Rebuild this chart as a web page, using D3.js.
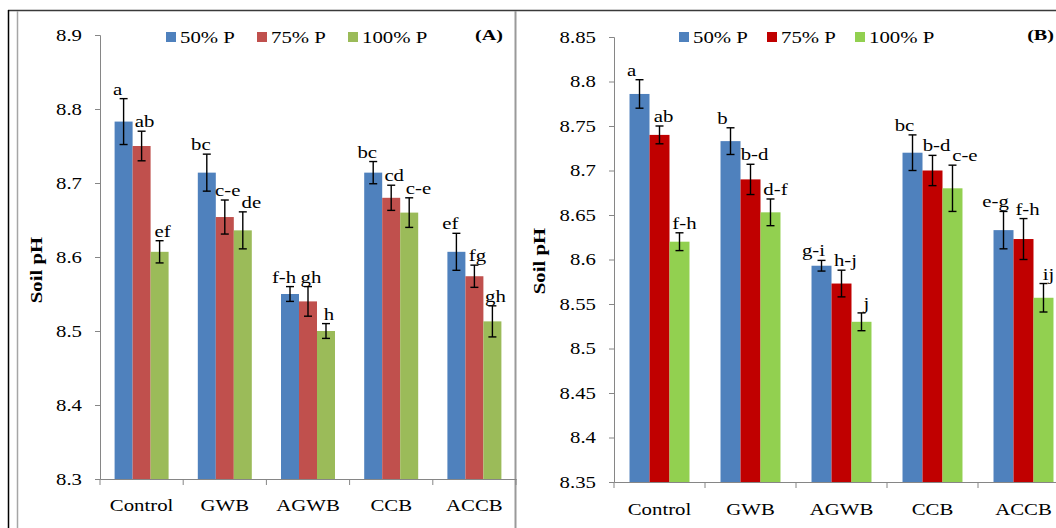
<!DOCTYPE html>
<html>
<head>
<meta charset="utf-8">
<script src="https://cdn.jsdelivr.net/npm/d3@7"></script>
<style>
body { margin: 0; background: #fff; }
svg { display: block; font-family: "Liberation Serif", "Times New Roman", serif; }
</style>
</head>
<body>
<svg id="chart" width="1056" height="528"></svg>
<script>
// categories and series
var categories = ["Control", "GWB", "AGWB", "CCB", "ACCB"];
var seriesNames = ["50% P", "75% P", "100% P"];

// panel (A) values
var a50 = [8.783, 8.714, 8.550, 8.714, 8.607];
var a75 = [8.750, 8.654, 8.540, 8.680, 8.574];
var a100 = [8.607, 8.636, 8.500, 8.660, 8.513];
var a50Err = [0.031, 0.025, 0.010, 0.015, 0.025];
var a75Err = [0.020, 0.023, 0.020, 0.017, 0.015];
var a100Err = [0.015, 0.025, 0.010, 0.020, 0.021];
var a50Lab = ["a", "bc", "f-h", "bc", "ef"];
var a75Lab = ["ab", "c-e", "gh", "cd", "fg"];
var a100Lab = ["ef", "de", "h", "c-e", "gh"];
var ticksA = [8.3, 8.4, 8.5, 8.6, 8.7, 8.8, 8.9];
var tickLabA = ["8.3", "8.4", "8.5", "8.6", "8.7", "8.8", "8.9"];

// panel (B) values
var b50 = [8.786, 8.733, 8.593, 8.720, 8.633];
var b75 = [8.740, 8.690, 8.573, 8.700, 8.623];
var b100 = [8.620, 8.653, 8.530, 8.680, 8.557];
var b50Err = [0.016, 0.015, 0.006, 0.020, 0.021];
var b75Err = [0.010, 0.017, 0.015, 0.017, 0.023];
var b100Err = [0.010, 0.015, 0.010, 0.026, 0.016];
var b50Lab = ["a", "b", "g-i", "bc", "e-g"];
var b75Lab = ["ab", "b-d", "h-j", "b-d", "f-h"];
var b100Lab = ["f-h", "d-f", "j", "c-e", "ij"];
var ticksB = [8.35, 8.4, 8.45, 8.5, 8.55, 8.6, 8.65, 8.7, 8.75, 8.8, 8.85];
var tickLabB = ["8.35", "8.4", "8.45", "8.5", "8.55", "8.6", "8.65", "8.7", "8.75", "8.8", "8.85"];

var axisColor = '#868686';
var sx = 1.3; // the original text is drawn wide

var svg = d3.select('#chart');

// frame lines
svg.append('line').attr('x1', 8).attr('x2', 1056).attr('y1', 10.5).attr('y2', 10.5)
	.attr('stroke', '#3a3a3a').attr('stroke-width', 1.5);
svg.append('line').attr('x1', 8.5).attr('x2', 8.5).attr('y1', 10).attr('y2', 528)
	.attr('stroke', '#000').attr('stroke-width', 1.5);
svg.append('line').attr('x1', 17.5).attr('x2', 17.5).attr('y1', 11).attr('y2', 528)
	.attr('stroke', '#a6a6a6').attr('stroke-width', 1.5);
svg.append('line').attr('x1', 515.5).attr('x2', 515.5).attr('y1', 11).attr('y2', 528)
	.attr('stroke', '#9a9a9a').attr('stroke-width', 2);

function wideText(g, x, y, txt){
	return g.append('text')
		.attr('transform', `translate(${x}, ${y}) scale(${sx}, 1)`)
		.text(txt);
}

function overlaps(a, b){
	return a.left < b.right && b.left < a.right && a.top < b.bottom && b.top < a.bottom;
}

function drawPanel(p){
	var g = svg.append('g');
	var x0 = d3.scaleBand().domain(categories)
		.range([p.left, p.right])
		.paddingInner(p.pad).paddingOuter(p.pad / 2);
	var x1 = d3.scaleBand().domain([0, 1, 2]).range([0, x0.bandwidth()]);
	var y = d3.scaleLinear().domain(p.domain).range([p.bottom, p.top]);

	// y axis
	var yAxis = g.append('g')
		.attr('transform', `translate(${p.left}, 0)`)
		.call(d3.axisLeft(y).tickValues(p.ticks).tickSizeOuter(0).tickSize(5)
			.tickFormat((d, i) => p.tickLabels[i]));
	yAxis.select('.domain').attr('stroke', axisColor);
	yAxis.selectAll('.tick line').attr('stroke', axisColor);
	yAxis.selectAll('.tick text')
		.attr('x', -18 / sx)
		.attr('transform', `scale(${sx}, 1)`)
		.attr('font-size', 16)
		.attr('font-family', '"Liberation Serif", serif')
		.attr('fill', '#000');

	// bars
	p.series.forEach(function(s, si){
		g.selectAll(null).data(s.vals).enter().append('rect')
			.attr('x', (d, i) => x0(categories[i]) + x1(si))
			.attr('width', x1.bandwidth())
			.attr('y', d => y(d))
			.attr('height', d => y(p.domain[0]) - y(d))
			.attr('fill', p.colors[si]);
	});

	// x axis
	var xAxis = g.append('g')
		.attr('transform', `translate(0, ${p.bottom})`)
		.call(d3.axisBottom(x0).tickSize(0).tickSizeOuter(0));
	xAxis.select('.domain').attr('stroke', axisColor);
	xAxis.selectAll('.tick text')
		.attr('y', p.labelY).attr('dy', 0)
		.attr('transform', `scale(${sx}, 1)`)
		.attr('font-size', 16)
		.attr('font-family', '"Liberation Serif", serif')
		.attr('fill', '#000');
	g.selectAll(null).data(d3.range(categories.length + 1)).enter().append('line')
		.attr('x1', i => p.left + i * x0.step()).attr('x2', i => p.left + i * x0.step())
		.attr('y1', p.bottom).attr('y2', p.bottom + 6)
		.attr('stroke', axisColor);

	// error bars and letters
	categories.forEach(function(c, i){
		var prev = null;
		p.series.forEach(function(s, si){
			var v = s.vals[i];
			var cx = x0(c) + x1(si) + x1.bandwidth() / 2;
			var yt = y(v + s.err[i]), yb = y(v - s.err[i]);
			var eg = g.append('g').attr('stroke', '#000').attr('stroke-width', 1.4);
			eg.append('line').attr('x1', cx).attr('x2', cx).attr('y1', yt).attr('y2', yb);
			eg.append('line').attr('x1', cx - 4).attr('x2', cx + 4).attr('y1', yt).attr('y2', yt);
			eg.append('line').attr('x1', cx - 4).attr('x2', cx + 4).attr('y1', yb).attr('y2', yb);
			var lx = cx + p.labelDx[si], ly = yt - 4;
			var t = wideText(g, lx, ly, s.lab[i])
				.attr('text-anchor', 'middle')
				.attr('font-size', 16);
			// push a letter right if it runs into the one before it
			if(prev){
				var a = prev.node().getBoundingClientRect();
				var b = t.node().getBoundingClientRect();
				if(overlaps(a, b)){
					lx += a.right - b.left + 1;
					t.attr('transform', `translate(${lx}, ${ly}) scale(${sx}, 1)`);
				}
			}
			prev = t;
		});
	});

	// legend
	seriesNames.forEach(function(n, si){
		var lx = p.legendX + si * p.legendStep;
		g.append('rect').attr('x', lx).attr('y', 32).attr('width', 10).attr('height', 10)
			.attr('fill', p.colors[si]);
		wideText(g, lx + 14, 43, n).attr('font-size', 16);
	});

	// panel tag and axis title
	wideText(g, p.tagX, 40, p.tag)
		.attr('text-anchor', 'end').attr('font-weight', 'bold').attr('font-size', 15.5);
	g.append('text')
		.attr('transform', `translate(${p.titleX}, ${p.titleY}) rotate(-90) scale(${sx}, 1)`)
		.attr('text-anchor', 'middle').attr('font-weight', 'bold').attr('font-size', 16)
		.text('Soil pH');
}

drawPanel({
	left: 100, right: 516, top: 35, bottom: 479, pad: 0.351,
	domain: [8.3, 8.9], ticks: ticksA, tickLabels: tickLabA, labelY: 32,
	colors: ['#4F81BD', '#C0504D', '#9BBB59'],
	series: [
		{vals: a50, err: a50Err, lab: a50Lab},
		{vals: a75, err: a75Err, lab: a75Lab},
		{vals: a100, err: a100Err, lab: a100Lab}
	],
	labelDx: [-6, 3, 3],
	legendX: 166, legendStep: 91,
	tag: '(A)', tagX: 503, titleX: 42, titleY: 270
});

drawPanel({
	left: 614, right: 1069, top: 37, bottom: 482, pad: 0.341,
	domain: [8.35, 8.85], ticks: ticksB, tickLabels: tickLabB, labelY: 33,
	colors: ['#4F81BD', '#C00000', '#92D050'],
	series: [
		{vals: b50, err: b50Err, lab: b50Lab},
		{vals: b75, err: b75Err, lab: b75Lab},
		{vals: b100, err: b100Err, lab: b100Lab}
	],
	labelDx: [-8, 4, 5],
	legendX: 679, legendStep: 88,
	tag: '(B)', tagX: 1054, titleX: 545, titleY: 261
});
</script>
</body>
</html>
